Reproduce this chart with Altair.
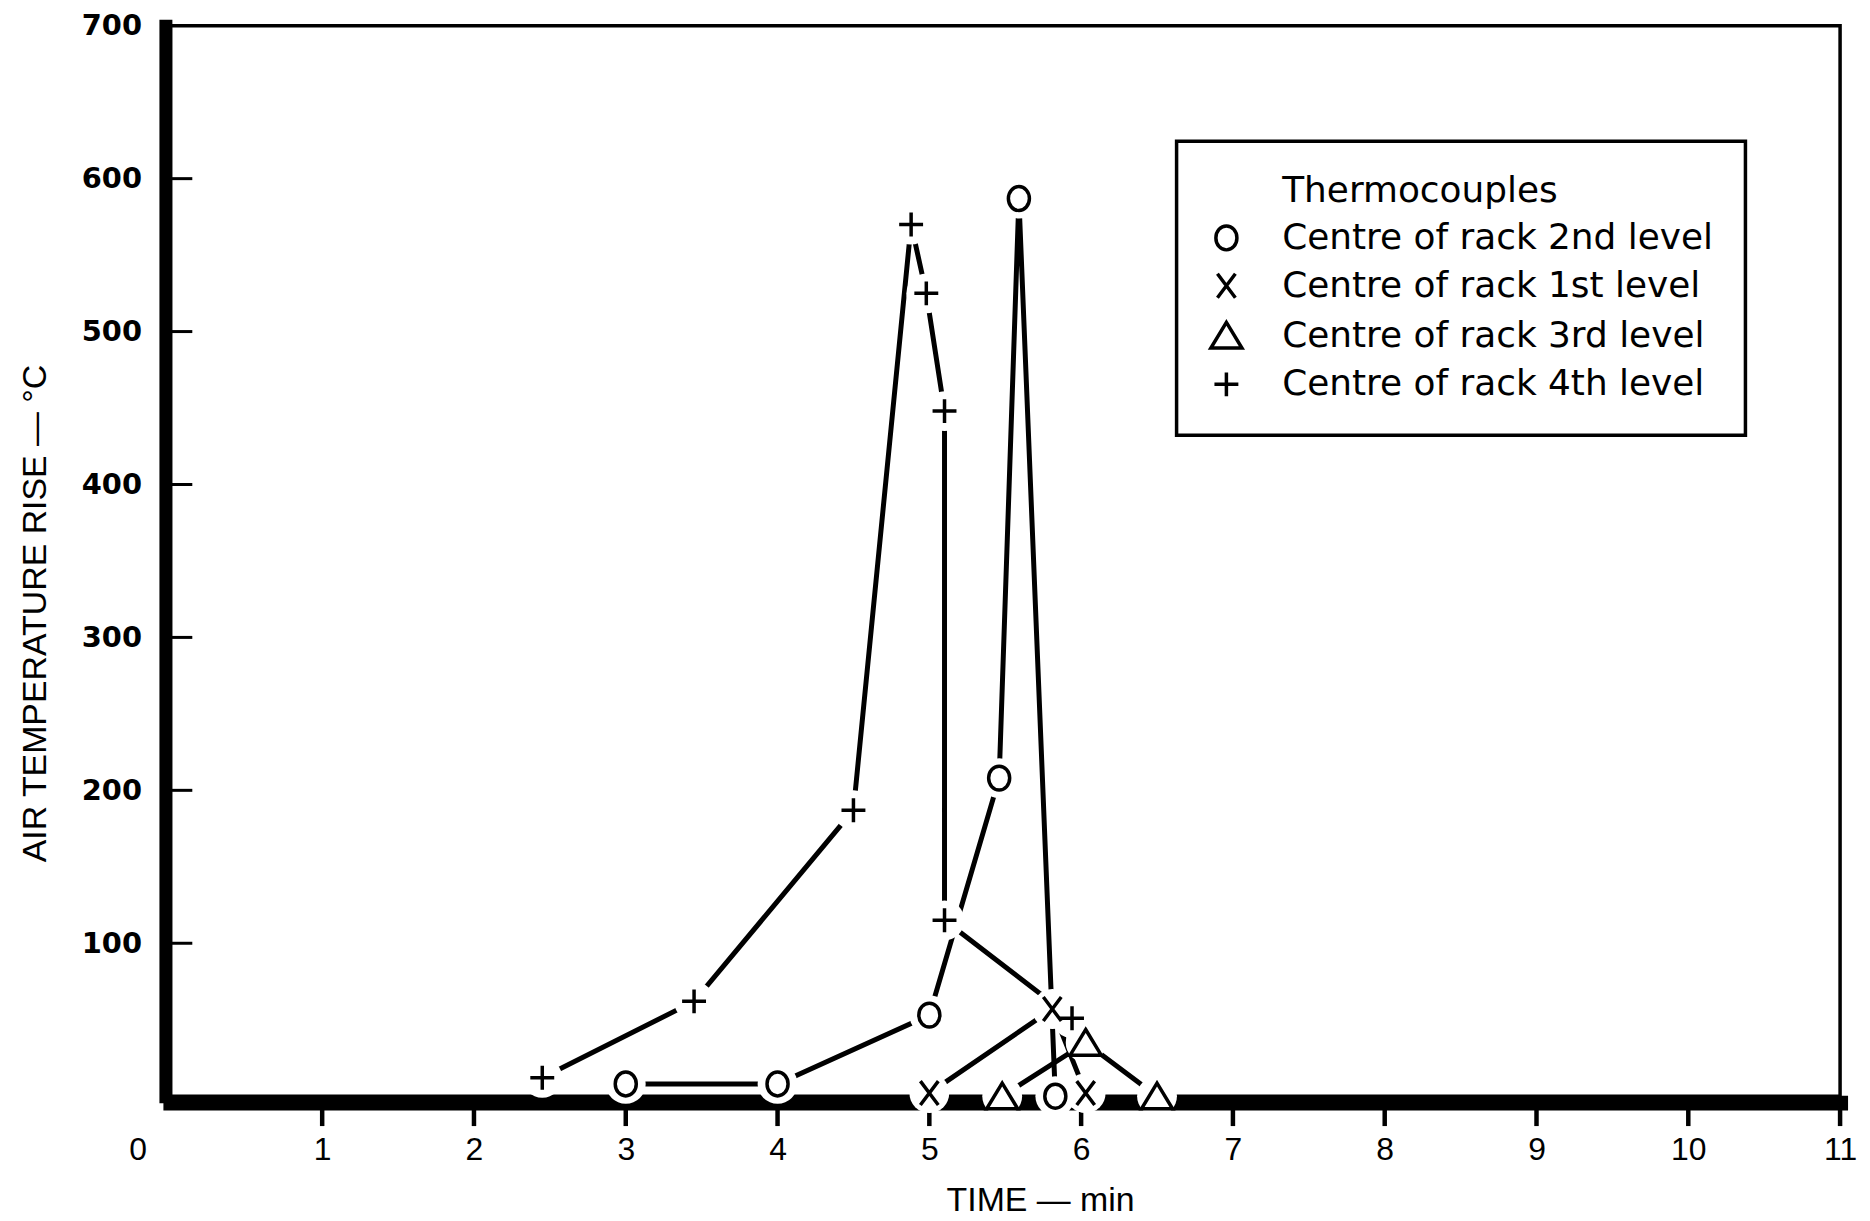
import altair as alt
import pandas as pd

# ---- series (time in min, air temperature rise in degC) ----
S2 = "Centre of rack 2nd level"
S1 = "Centre of rack 1st level"
S3 = "Centre of rack 3rd level"
S4 = "Centre of rack 4th level"
LEGEND_HEAD = "Thermocouples"

o_time = [3.0, 4.0, 5.0, 5.46, 5.59, 5.83]
o_temp = [8, 8, 53, 208, 587, 0]

x_time = [5.0, 5.81, 6.03]
x_temp = [2, 57, 2]

t_time = [5.48, 6.03, 6.5]
t_temp = [0, 35, 0]

p_time = [2.45, 3.45, 4.5, 4.88, 4.98, 5.10, 5.10, 5.94]
p_temp = [12, 62, 187, 570, 525, 448, 115, 51]

x_ticks = list(range(0, 12))
x_tick_marks = list(range(1, 12))
y_ticks = list(range(0, 800, 100))
inner_y_ticks = [100, 200, 300, 400, 500, 600]

legend_order = [LEGEND_HEAD, S2, S1, S3, S4]
shape_paths = [
    "M0,0",
    "M0,-1A0.88,1 0 1,1 0,1A0.88,1 0 1,1 0,-1Z",
    "M-0.75,-1L0.75,1M-0.75,1L0.75,-1",
    "M0,-1.1L1.3,1.05L-1.3,1.05Z",
    "M-1,0L1,0M0,-1L0,1",
]

W, H = 1676, 1074.5

rows = []
for name, ts, vs in [(S2, o_time, o_temp), (S1, x_time, x_temp),
                     (S3, t_time, t_temp), (S4, p_time, p_temp)]:
    for i, (t, v) in enumerate(zip(ts, vs)):
        rows.append({"series": name, "idx": i, "time": t, "temp": v})
df = pd.DataFrame(rows)
yticks_df = pd.DataFrame({"temp": inner_y_ticks})
xticks_df = pd.DataFrame({"time": x_tick_marks})

xscale = alt.Scale(domain=[0, 11], nice=False, zero=False)
yscale = alt.Scale(domain=[0, 700], nice=False)

x_axis = alt.Axis(
    values=x_ticks, format="d", title="TIME — min", grid=False, offset=6.5,
    domainWidth=15, domainColor="black", domainCap="square",
    ticks=False, tickSize=0,
    labelFont="Liberation Sans", labelFontSize=32, labelColor="black",
    labelPadding=32.5, labelFlush=False, labelOverlap=False,
    labelOffset={"condition": {"test": "datum.value === 0", "value": -33}, "value": 0},
    titleFont="Liberation Sans", titleFontSize=34, titleFontWeight="normal",
    titleColor="black", titleX=873, titleY=108.5, titleBaseline="alphabetic",
    titleAlign="center",
)
y_axis = alt.Axis(
    values=y_ticks, title="AIR TEMPERATURE RISE — °C", grid=False, offset=5,
    domainWidth=13, domainColor="black", domainCap="square",
    ticks=False, tickSize=0,
    labelExpr="datum.value === 0 ? '' : datum.label",
    labelFont="DejaVu Sans", labelFontWeight="bold", labelFontSize=29,
    labelColor="black", labelPadding=24, labelFlush=False, labelOverlap=False,
    titleFont="Liberation Sans", titleFontSize=34, titleFontWeight="normal",
    titleColor="black", titleX=-120, titleY=589.5, titleBaseline="alphabetic",
    titleAlign="center", titleAngle=270,
)

X = alt.X("time:Q", scale=xscale, axis=x_axis)
Y = alt.Y("temp:Q", scale=yscale, axis=y_axis)
Xp = alt.X("time:Q", scale=xscale)
Yp = alt.Y("temp:Q", scale=yscale)

lines = alt.Chart(df).mark_line(color="black", strokeWidth=5).encode(
    x=X, y=Y, detail="series:N", order="idx:Q"
)

inner_ticks = alt.Chart(yticks_df).mark_rule(color="black", strokeWidth=3).encode(
    y=Yp, x=alt.value(0), x2=alt.value(22)
)

outer_ticks = alt.Chart(xticks_df).mark_rule(color="black", strokeWidth=4.5).encode(
    x=Xp, y=alt.value(H + 13), y2=alt.value(H + 30)
)

halos = alt.Chart(df).mark_circle(size=1600, color="white", opacity=1).encode(
    x=Xp, y=Yp
)

legend = alt.Legend(
    title=None, orient="none", legendX=1010, legendY=116, padding=32,
    strokeColor="black", fillColor="white",
    labelFont="DejaVu Sans", labelFontSize=36, labelColor="black",
    labelLimit=800, labelOffset=38, rowPadding=10,
    symbolSize=576, symbolStrokeWidth=3.5, symbolStrokeColor="black",
    symbolFillColor="transparent", symbolOpacity=1,
)

points = alt.Chart(df).mark_point(
    filled=False, color="black", stroke="black", strokeWidth=3.5, size=576, opacity=1
).encode(
    x=Xp, y=Yp,
    shape=alt.Shape("series:N", scale=alt.Scale(domain=legend_order, range=shape_paths),
                    legend=legend),
)

chart = alt.layer(lines, inner_ticks, outer_ticks, halos, points).properties(
    width=W, height=H,
    padding={"left": 163, "top": 15.5, "right": 22, "bottom": 122},
    autosize=alt.AutoSizeParams(type="none"),
    background="white",
).configure_view(stroke="black", strokeWidth=3.5).configure_legend(strokeWidth=3.5)

chart.save("out.html", embed_options={"renderer": "svg", "actions": False})
